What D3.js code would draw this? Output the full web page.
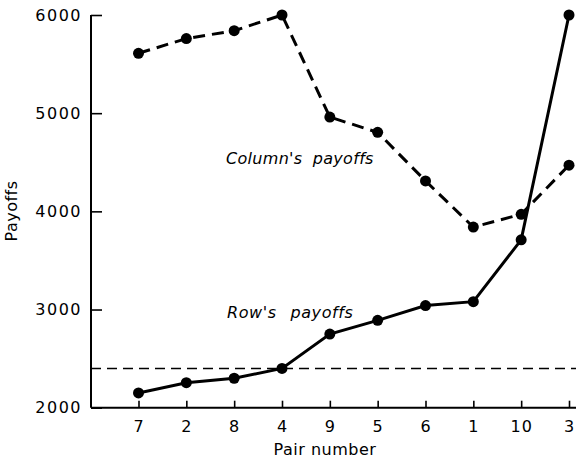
<!DOCTYPE html>
<html>
<head>
<meta charset="utf-8">
<script src="https://cdn.jsdelivr.net/npm/d3@7"></script>
<style>
  html, body { margin: 0; padding: 0; background: #fff; }
  svg { display: block; }
  text { font-family: "DejaVu Sans", sans-serif; fill: #000; }
</style>
</head>
<body>
<svg id="chart" width="576" height="461"></svg>
<script>
const pairs = ["7", "2", "8", "4", "9", "5", "6", "1", "10", "3"];
const columnPayoffs = [5610, 5760, 5840, 6000, 4960, 4805, 4310, 3840, 3970, 4470];
const rowPayoffs = [2150, 2255, 2300, 2400, 2750, 2890, 3040, 3080, 3710, 6000];
const referenceLevel = 2400;
const yTicks = [2000, 3000, 4000, 5000, 6000];

const svg = d3.select("#chart");
const x = d3.scalePoint().domain(pairs).range([138.5, 569]);
const y = d3.scaleLinear().domain([2000, 6000]).range([407.7, 15]);
const axisLeftX = 91;
const rightEdge = 576;

// X axis
const gx = svg.append("g").attr("transform", `translate(0,${y(2000)})`)
  .call(d3.axisBottom(x).tickSizeInner(-7).tickSizeOuter(0).tickPadding(13));
gx.select(".domain").remove();
gx.selectAll(".tick line").attr("stroke", "#000").attr("stroke-width", 1.6);
gx.selectAll(".tick text").attr("font-size", 16).style("letter-spacing", "1px");
svg.append("line").attr("x1", axisLeftX).attr("x2", rightEdge)
  .attr("y1", y(2000)).attr("y2", y(2000)).attr("stroke", "#000").attr("stroke-width", 2);

// Y axis
const gy = svg.append("g").attr("transform", `translate(${axisLeftX},0)`)
  .call(d3.axisLeft(y).tickValues(yTicks).tickFormat(d3.format("d")).tickSizeInner(-11).tickSizeOuter(0).tickPadding(9));
gy.select(".domain").remove();
gy.selectAll(".tick line").attr("stroke", "#000").attr("stroke-width", 1.6);
gy.selectAll(".tick text").attr("font-size", 16).style("letter-spacing", "1.5px");
svg.append("line").attr("x1", axisLeftX).attr("x2", axisLeftX)
  .attr("y1", y(6000)).attr("y2", y(2000)).attr("stroke", "#000").attr("stroke-width", 2);

// Reference dashed line
svg.append("line").attr("x1", axisLeftX).attr("x2", rightEdge)
  .attr("y1", y(referenceLevel)).attr("y2", y(referenceLevel))
  .attr("stroke", "#000").attr("stroke-width", 1.5).attr("stroke-dasharray", "10,6");

const line = d3.line().x((d, i) => x(pairs[i])).y(d => y(d));

// Column's payoffs (dashed)
svg.append("path").datum(columnPayoffs).attr("d", line)
  .attr("fill", "none").attr("stroke", "#000").attr("stroke-width", 3)
  .attr("stroke-dasharray", "12,7");
svg.selectAll("circle.col").data(columnPayoffs).join("circle").attr("class", "col")
  .attr("cx", (d, i) => x(pairs[i])).attr("cy", d => y(d)).attr("r", 5.5).attr("fill", "#000");

// Row's payoffs (solid)
svg.append("path").datum(rowPayoffs).attr("d", line)
  .attr("fill", "none").attr("stroke", "#000").attr("stroke-width", 3);
svg.selectAll("circle.row").data(rowPayoffs).join("circle").attr("class", "row")
  .attr("cx", (d, i) => x(pairs[i])).attr("cy", d => y(d)).attr("r", 5.5).attr("fill", "#000");

// Labels
svg.append("text").attr("x", 226).attr("y", 164).attr("font-size", 16)
  .attr("font-style", "italic").style("letter-spacing", "0.3px").style("word-spacing", "5px")
  .text("Column's payoffs");
svg.append("text").attr("x", 227).attr("y", 318).attr("font-size", 16)
  .attr("font-style", "italic").style("letter-spacing", "0.6px").style("word-spacing", "8px")
  .text("Row's payoffs");
svg.append("text").attr("x", 325).attr("y", 455).attr("font-size", 16)
  .attr("text-anchor", "middle").style("letter-spacing", "0.5px").text("Pair number");
svg.append("text").attr("transform", "translate(17,211) rotate(-90)").attr("font-size", 16)
  .attr("text-anchor", "middle").style("letter-spacing", "0.5px").text("Payoffs");
</script>
</body>
</html>
